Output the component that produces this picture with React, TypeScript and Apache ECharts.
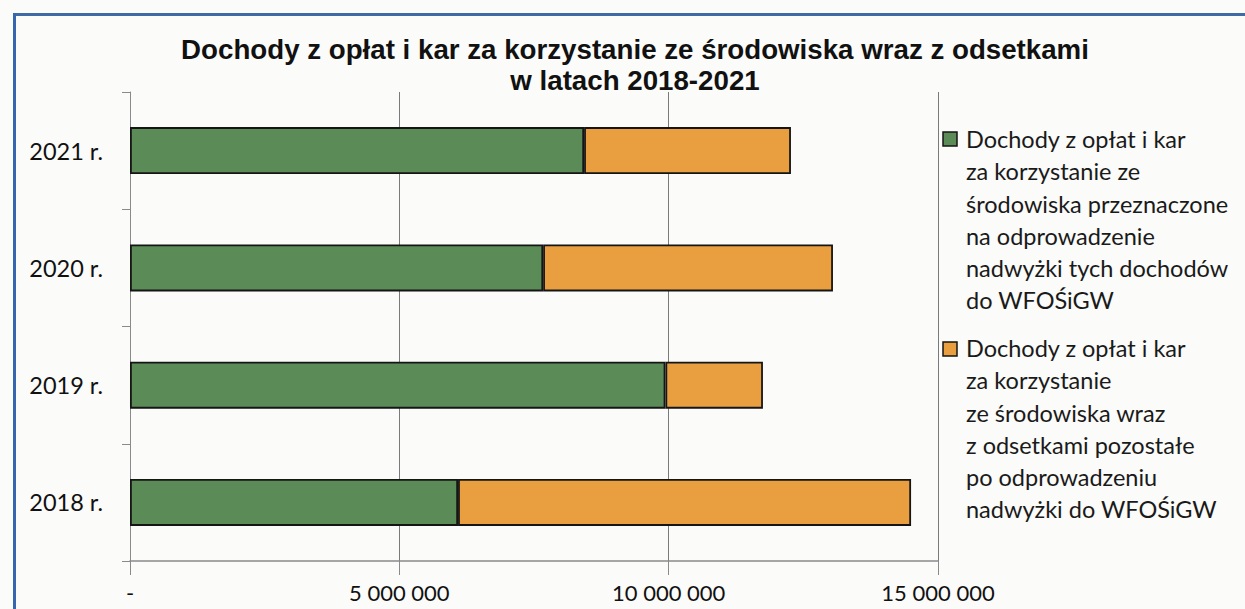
import React, { useEffect, useRef } from "react";
import * as echarts from "echarts";

const TITLE_LINES = [
  "Dochody z opłat i kar za korzystanie ze środowiska wraz z odsetkami",
  "w latach 2018-2021",
];
const CATEGORIES = ["2018 r.", "2019 r.", "2020 r.", "2021 r."];
const SERIES_NAMES = [
  "Dochody z opłat i kar za korzystanie ze środowiska przeznaczone na odprowadzenie nadwyżki tych dochodów do WFOŚiGW",
  "Dochody z opłat i kar za korzystanie ze środowiska wraz z odsetkami pozostałe po odprowadzeniu nadwyżki do WFOŚiGW",
];
const LEGEND_LINES_1 = [
  "Dochody z opłat i kar",
  "za korzystanie ze",
  "środowiska przeznaczone",
  "na odprowadzenie",
  "nadwyżki tych dochodów",
  "do WFOŚiGW",
];
const LEGEND_LINES_2 = [
  "Dochody z opłat i kar",
  "za korzystanie",
  "ze środowiska wraz",
  "z odsetkami pozostałe",
  "po odprowadzeniu",
  "nadwyżki do WFOŚiGW",
];
const GREEN_VALUES = [6090000, 9940000, 7670000, 8430000];
const ORANGE_VALUES = [8410000, 1810000, 5380000, 3840000];
const X_MIN = 0;
const X_MAX = 15000000;
const X_INTERVAL = 5000000;

const GREEN = "#5b8c57";
const ORANGE = "#e99f3f";
const FONT = "Lato, 'Open Sans', sans-serif";

function fmt(v: number): string {
  if (v === 0) return "-";
  return String(Math.round(v)).replace(/\B(?=(\d{3})+(?!\d))/g, " ");
}

export default function App() {
  const ref = useRef<HTMLDivElement>(null);

  useEffect(() => {
    document.body.style.margin = "0";
    if (!ref.current) return;
    const chart = echarts.init(ref.current, undefined, { renderer: "svg" });
    const option: any = {
      animation: false,
      backgroundColor: "#fbfbf9",
      title: {
        text: TITLE_LINES.join("\n"),
        left: 635,
        top: 34,
        padding: 0,
        textAlign: "center",
        textStyle: {
          fontFamily: "'Liberation Sans', Arial, sans-serif",
          fontWeight: "bold",
          fontSize: 27.7,
          lineHeight: 31,
          color: "#111",
        },
      },
      legend: { show: false },
      grid: { left: 130, right: 307, top: 92, bottom: 48, containLabel: false },
      xAxis: {
        type: "value",
        min: X_MIN,
        max: X_MAX,
        interval: X_INTERVAL,
        axisLine: { show: true, lineStyle: { color: "#8a8a8a", width: 1.5 } },
        axisTick: { show: true, length: 14, lineStyle: { color: "#8a8a8a" } },
        splitLine: { show: true, lineStyle: { color: "#7a7a7a", width: 1 } },
        axisLabel: {
          formatter: fmt,
          margin: 20,
          fontFamily: FONT,
          fontSize: 22,
          color: "#111",
        },
      },
      yAxis: {
        type: "category",
        data: CATEGORIES,
        axisLine: { show: true, lineStyle: { color: "#8a8a8a", width: 1 } },
        axisTick: { show: true, length: 8, lineStyle: { color: "#8a8a8a" } },
        axisLabel: {
          margin: 27,
          fontFamily: FONT,
          fontSize: 23.5,
          color: "#111",
        },
      },
      series: [
        {
          name: SERIES_NAMES[0],
          type: "bar",
          stack: "total",
          barWidth: 47,
          data: GREEN_VALUES,
          itemStyle: { color: GREEN, borderColor: "#151515", borderWidth: 1.8 },
        },
        {
          name: SERIES_NAMES[1],
          type: "bar",
          stack: "total",
          barWidth: 47,
          data: ORANGE_VALUES,
          itemStyle: { color: ORANGE, borderColor: "#151515", borderWidth: 1.8 },
        },
      ],
      graphic: [
        {
          type: "line",
          shape: { x1: 14.5, y1: 14.5, x2: 1245, y2: 14.5 },
          style: { stroke: "#3f6aa6", lineWidth: 3 },
        },
        {
          type: "line",
          shape: { x1: 14.5, y1: 13, x2: 14.5, y2: 609 },
          style: { stroke: "#3566b0", lineWidth: 3 },
        },
        {
          type: "rect",
          shape: { x: 943, y: 132, width: 14, height: 14 },
          style: { fill: GREEN, stroke: "#151515", lineWidth: 1.5 },
        },
        {
          type: "text",
          x: 966,
          y: 123,
          style: {
            text: LEGEND_LINES_1.join("\n"),
            fontFamily: FONT,
            fontSize: 23.5,
            lineHeight: 32.2,
            fill: "#1a1a1a",
            verticalAlign: "top",
          },
        },
        {
          type: "rect",
          shape: { x: 943, y: 342, width: 14, height: 14 },
          style: { fill: ORANGE, stroke: "#151515", lineWidth: 1.5 },
        },
        {
          type: "text",
          x: 966,
          y: 332,
          style: {
            text: LEGEND_LINES_2.join("\n"),
            fontFamily: FONT,
            fontSize: 23.5,
            lineHeight: 32.2,
            fill: "#1a1a1a",
            verticalAlign: "top",
          },
        },
      ],
    };
    chart.setOption(option);
    return () => chart.dispose();
  }, []);

  return (
    <div
      ref={ref}
      style={{ position: "absolute", left: 0, top: 0, width: 1245, height: 609 }}
    />
  );
}
